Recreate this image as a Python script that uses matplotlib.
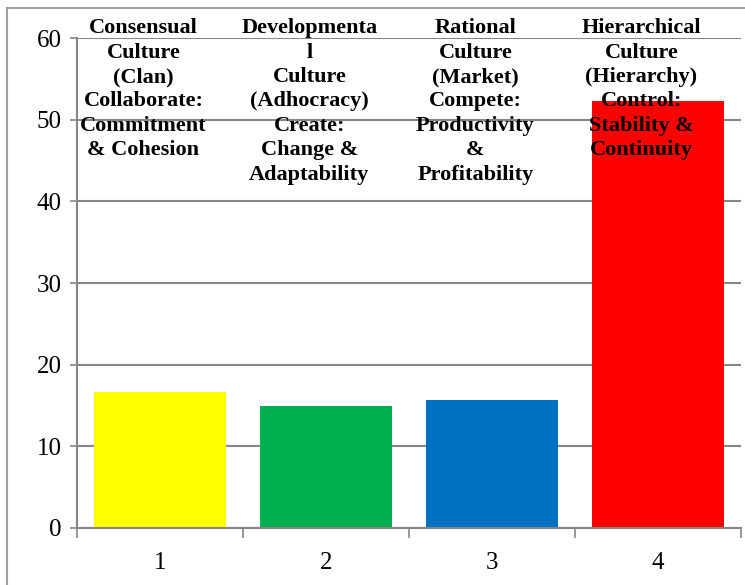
import matplotlib.pyplot as plt
from matplotlib.patches import Rectangle

# data
categories = ["1", "2", "3", "4"]
values = [16.7, 15.0, 15.7, 52.3]
colors = ["#FFFF00", "#00B050", "#0070C0", "#FF0000"]
labels = [
    "Consensual\nCulture\n(Clan)\nCollaborate:\nCommitment\n& Cohesion",
    "Developmenta\nl\nCulture\n(Adhocracy)\nCreate:\nChange &\nAdaptability",
    "Rational\nCulture\n(Market)\nCompete:\nProductivity\n&\nProfitability",
    "Hierarchical\nCulture\n(Hierarchy)\nControl:\nStability &\nContinuity",
]
yticks = [0, 10, 20, 30, 40, 50, 60]

plt.rcParams['font.family'] = ['Liberation Serif', 'DejaVu Serif']

fig = plt.figure(figsize=(7.45, 5.85), dpi=100)
ax = fig.add_axes([77 / 745, 1 - 528 / 585, (741 - 77) / 745, (528 - 38) / 585])

x = list(range(len(categories)))
ax.bar(x, values, width=0.8, color=colors, zorder=2)

ax.set_xlim(-0.5, len(categories) - 0.5)
ax.set_ylim(0, 60)
ax.set_yticks(yticks)
ax.set_xticks(x)
ax.set_xticklabels(categories)
ax.set_xticks([i - 0.5 for i in range(len(categories) + 1)], minor=True)

ax.grid(axis='y', color='#868686', linewidth=1.5, zorder=0)
for s in ['top', 'right']:
    ax.spines[s].set_visible(False)
for s in ['left', 'bottom']:
    ax.spines[s].set_color('#868686')
    ax.spines[s].set_linewidth(1.5)

ax.tick_params(axis='y', length=5, width=1.2, color='#868686', labelsize=18, pad=6)
ax.tick_params(axis='x', which='major', length=0, labelsize=18, pad=17)
ax.tick_params(axis='x', which='minor', length=7, width=1.2, color='#868686')

for i, lab in enumerate(labels):
    ax.text(i - 0.1, 62.4, lab, ha='center', va='top', fontsize=16,
            fontweight='bold', linespacing=1.29, zorder=5, clip_on=False)

# chart border
fig.patches.append(Rectangle((7 / 745, -0.1), 1.2, 1 - 8 / 585 + 0.1,
                             transform=fig.transFigure, fill=False,
                             edgecolor='#a0a0a0', linewidth=1.5))

fig.savefig("out.png", dpi=100)
